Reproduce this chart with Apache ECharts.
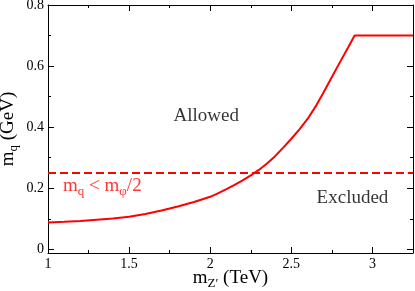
<!DOCTYPE html>
<html><head><meta charset="utf-8">
<script src="https://cdn.jsdelivr.net/npm/echarts@6/dist/echarts.min.js"></script>
<style>html,body{margin:0;padding:0;background:#fff}#c{width:415px;height:291px}</style>
</head><body><div id="c"></div>
<script>
// Data
const mZ = [1.0, 1.1, 1.2, 1.3, 1.4, 1.5, 1.6, 1.7, 1.8, 1.9, 2.0, 2.05, 2.1, 2.15, 2.2, 2.25, 2.3, 2.35, 2.4, 2.45, 2.5, 2.55, 2.6, 2.65, 2.7, 2.75, 2.8, 2.85, 2.89, 3.25];
const mq = [0.088, 0.090, 0.093, 0.097, 0.101, 0.107, 0.116, 0.127, 0.140, 0.155, 0.172, 0.184, 0.197, 0.211, 0.226, 0.242, 0.260, 0.281, 0.305, 0.333, 0.362, 0.393, 0.427, 0.468, 0.515, 0.564, 0.613, 0.661, 0.700, 0.700];
const cutX = [1.0, 3.25];
const cutY = [0.25, 0.25];
const xTicks = [1, 1.5, 2, 2.5, 3];
const xMinor = [1.25, 1.75, 2.25, 2.75];
const yTicks = [0, 0.2, 0.4, 0.6, 0.8];
const yMinor = [0.1, 0.3, 0.5, 0.7];

const FONT = 'Liberation Serif';
const RED = '#ff0000';
const chart = echarts.init(document.getElementById('c'), null, {renderer: 'canvas'});

const X_MIN = 1, X_MAX = 3.25, Y_MIN = -0.012, Y_MAX = 0.8;
const tickRich = {t: {fontFamily: FONT, fontSize: 14, color: '#000'}};
function xAx(pos, ticks, len, labels, line, name) {
  const a = {
    type: 'value', position: pos, min: X_MIN, max: X_MAX, gridIndex: 0,
    axisLine: {show: line, onZero: false, lineStyle: {color: '#000', width: 1}},
    axisTick: {show: true, inside: true, length: len, customValues: ticks, lineStyle: {color: '#000'}},
    axisLabel: {show: labels, customValues: ticks, fontFamily: FONT, fontSize: 14, color: '#000', margin: 4,
      formatter: v => '{t|' + v + '}', rich: tickRich},
    splitLine: {show: false}
  };
  if (name) {
    a.name = '{m|m}{s|Z′}{m| (TeV)}';
    a.nameLocation = 'middle';
    a.nameGap = 14;
    a.nameMoveOverlap = false;
    a.nameTextStyle = {rich: {
      m: {fontFamily: FONT, fontSize: 19, color: '#000'},
      s: {fontFamily: FONT, fontSize: 13, color: '#000', padding: [10, 0, 0, 0]}
    }};
  }
  return a;
}
function yAx(pos, ticks, len, labels, line, name) {
  const a = {
    type: 'value', position: pos, min: Y_MIN, max: Y_MAX, gridIndex: 0,
    axisLine: {show: line, onZero: false, lineStyle: {color: '#000', width: 1}},
    axisTick: {show: true, inside: true, length: len, customValues: ticks, lineStyle: {color: '#000'}},
    axisLabel: {show: labels, customValues: ticks, fontFamily: FONT, fontSize: 14, color: '#000', margin: 4,
      formatter: v => '{t|' + v + '}', rich: tickRich},
    splitLine: {show: false}
  };
  if (name) {
    a.name = '{m|m}{s|q}{m| (GeV)}';
    a.nameLocation = 'middle';
    a.nameRotate = 90;
    a.nameGap = 28;
    a.nameMoveOverlap = false;
    a.nameTextStyle = {rich: {
      m: {fontFamily: FONT, fontSize: 19, color: '#000'},
      s: {fontFamily: FONT, fontSize: 13, color: '#000', padding: [10, 0, 0, 0]}
    }};
  }
  return a;
}

const labelRich = {
  a: {fontFamily: FONT, fontSize: 19, color: RED},
  s: {fontFamily: FONT, fontSize: 13, color: RED, padding: [10, 0, 0, 0]}
};
const blackRich = {
  b: {fontFamily: FONT, fontSize: 19, color: '#000'}
};

chart.setOption({
  animation: false,
  textStyle: {fontFamily: FONT},
  grid: {left: 48, right: 2, top: 5, bottom: 38, containLabel: false, outerBoundsMode: 'none'},
  xAxis: [
    xAx('bottom', xTicks, 6, true, true, true),
    xAx('bottom', xMinor, 3, false, false, false),
    xAx('top', xTicks, 6, false, true, false),
    xAx('top', xMinor, 3, false, false, false)
  ],
  yAxis: [
    yAx('left', yTicks, 6, true, true, true),
    yAx('left', yMinor, 3, false, false, false),
    yAx('right', yTicks, 6, false, true, false),
    yAx('right', yMinor, 3, false, false, false)
  ],
  series: [
    {type: 'line', xAxisIndex: 0, yAxisIndex: 0, data: mZ.map((x, i) => [x, mq[i]]),
     smooth: false, showSymbol: false, symbol: 'none',
     lineStyle: {color: RED, width: 2}},
    {type: 'line', xAxisIndex: 0, yAxisIndex: 0, data: cutX.map((x, i) => [x, cutY[i]]),
     showSymbol: false, symbol: 'none',
     lineStyle: {color: RED, width: 2, type: [8, 4]}},
    {type: 'scatter', xAxisIndex: 0, yAxisIndex: 0, symbolSize: 0, silent: true,
     data: [
       {value: [1.975, 0.437], label: {show: true, position: 'inside', formatter: '{b|Allowed}', rich: blackRich}},
       {value: [2.877, 0.168], label: {show: true, position: 'inside', formatter: '{b|Excluded}', rich: blackRich}},
       {value: [1.093, 0.207], label: {show: true, position: 'right', distance: 0, formatter: '{a|m}{s|q}{a| < m}{s|φ}{a|/2}', rich: labelRich}}
     ]}
  ]
});
</script></body></html>
